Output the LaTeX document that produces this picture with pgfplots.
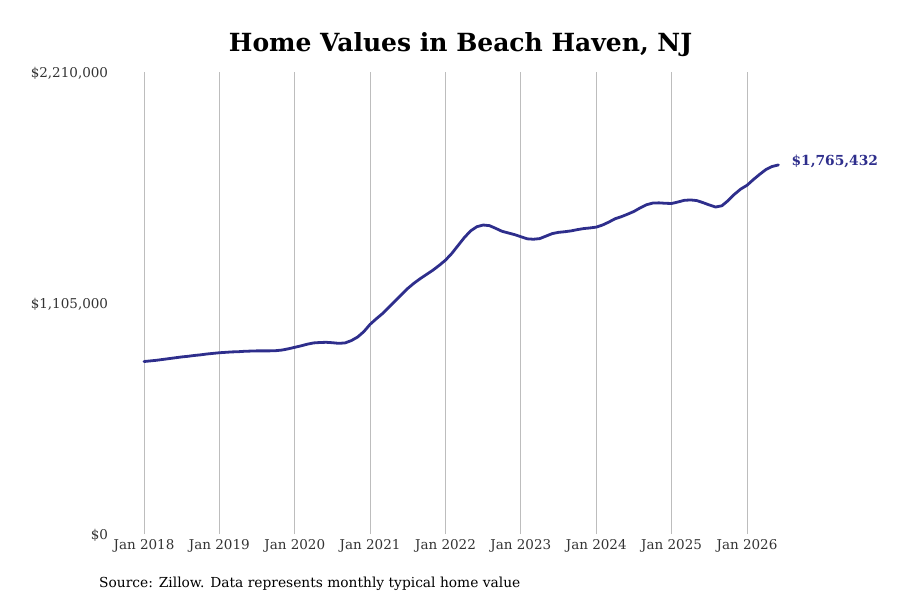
\documentclass[border=0pt]{standalone}
\usepackage{pgfplots}
\pgfplotsset{compat=1.18}
\usepackage{fontspec}
\setmainfont{DejaVu Serif}
\definecolor{linecol}{HTML}{2E2E8C}
\definecolor{gridcol}{HTML}{BDBDBD}
\definecolor{labcol}{HTML}{333333}

% months since Jan 2018, typical home value
\pgfplotstableread{
m value
0 825000
1 828000
2 831000
3 835000
4 839000
5 843000
6 847000
7 850000
8 854000
9 857000
10 861000
11 864000
12 867000
13 869000
14 871000
15 872000
16 874000
17 875000
18 876000
19 876000
20 876000
21 877000
22 880000
23 886000
24 893000
25 900000
26 908000
27 914000
28 916000
29 917000
30 915000
31 912000
32 914000
33 925000
34 942000
35 968000
36 1003000
37 1030000
38 1055000
39 1085000
40 1115000
41 1145000
42 1175000
43 1200000
44 1222000
45 1242000
46 1262000
47 1285000
48 1310000
49 1342000
50 1380000
51 1418000
52 1450000
53 1470000
54 1478000
55 1475000
56 1462000
57 1448000
58 1440000
59 1432000
60 1422000
61 1412000
62 1410000
63 1413000
64 1425000
65 1437000
66 1443000
67 1446000
68 1450000
69 1456000
70 1461000
71 1464000
72 1468000
73 1478000
74 1492000
75 1508000
76 1518000
77 1530000
78 1543000
79 1560000
80 1575000
81 1583000
82 1584000
83 1582000
84 1581000
85 1588000
86 1596000
87 1598000
88 1595000
89 1585000
90 1574000
91 1564000
92 1570000
93 1595000
94 1625000
95 1650000
96 1668000
97 1695000
98 1720000
99 1743000
100 1758000
101 1765432
}\homevalues

\begin{document}
\begin{tikzpicture}
\begin{axis}[
    name=ax,
    scale only axis,
    width=665.8bp, height=462bp,
    xmin=-5, xmax=101,
    ymin=0, ymax=2210000,
    axis line style={draw=none},
    clip=false,
    xtick={0,12,24,36,48,60,72,84,96},
    xticklabels={Jan 2018,Jan 2019,Jan 2020,Jan 2021,Jan 2022,Jan 2023,Jan 2024,Jan 2025,Jan 2026},
    ytick={0,1105000,2210000},
    scaled y ticks=false,
    yticklabels={{\$0},{\$1,105,000},{\$2,210,000}},
    major tick length=0pt,
    tick style={draw=none},
    xmajorgrids,
    grid style={gridcol, line width=0.8bp},
    ticklabel style={font=\fontsize{13.5bp}{16bp}\selectfont, text=labcol},
    xticklabel style={yshift=-2bp},
    yticklabel style={xshift=-1bp, yshift=-1bp},
]
\addplot[linecol, line width=2.8bp, line join=round, line cap=round, mark=none] table[x=m, y=value] {\homevalues};
\node[anchor=west, text=linecol, font=\fontsize{13.8bp}{16bp}\selectfont\bfseries, inner sep=0pt]
    at (axis cs:101,1765432) [xshift=13bp, yshift=4bp] {\$1,765,432};
\end{axis}
\path[use as bounding box] ([shift={(-112.6bp,-66bp)}]ax.south west) rectangle ([shift={(787.4bp,534bp)}]ax.south west);
\node[anchor=base, font=\fontsize{25bp}{30bp}\selectfont\bfseries]
    at ([shift={(347.9bp,482bp)}]ax.south west) {Home Values in Beach Haven, NJ};
\node[anchor=base west, font=\fontsize{13.8bp}{16bp}\selectfont, inner sep=0pt]
    at ([shift={(-13.6bp,-53bp)}]ax.south west) {Source: Zillow. Data represents monthly typical home value};
\end{tikzpicture}
\end{document}
